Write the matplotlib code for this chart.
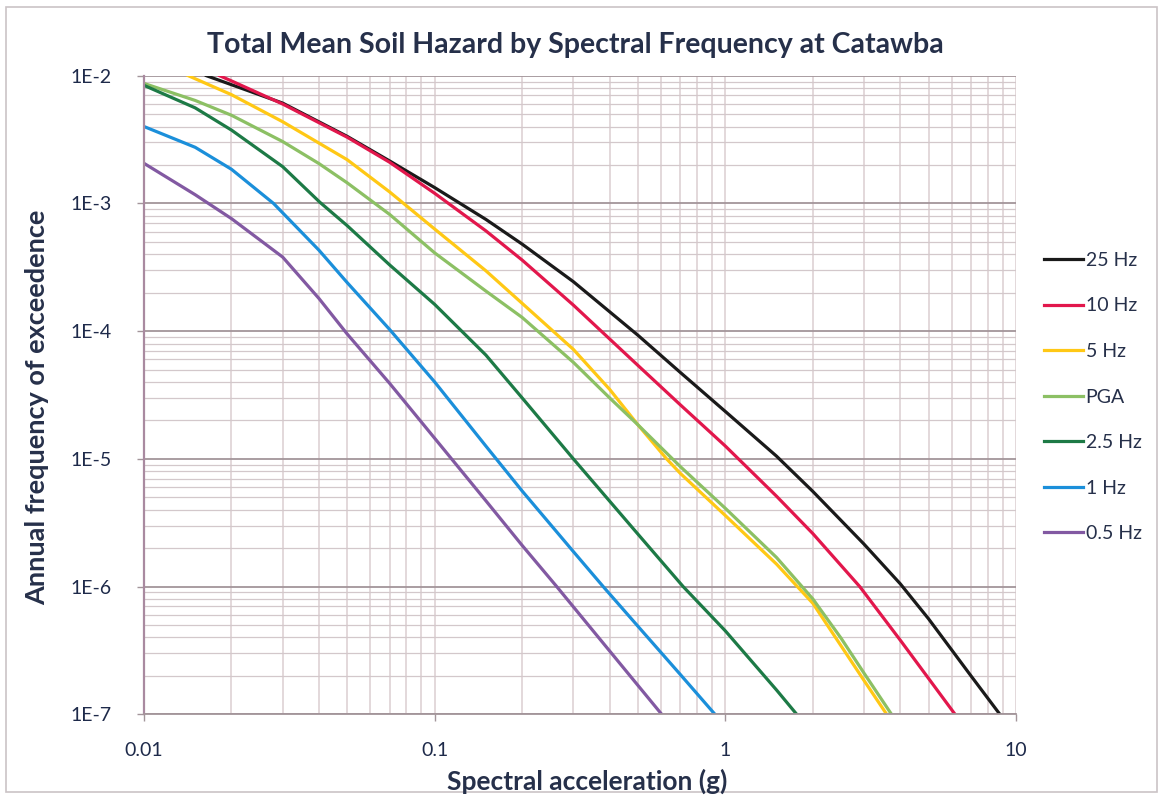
import matplotlib
matplotlib.use("Agg")
import matplotlib.pyplot as plt
from matplotlib.patches import Rectangle

# ---------------- data ----------------
labels = ["25 Hz", "10 Hz", "5 Hz", "PGA", "2.5 Hz", "1 Hz", "0.5 Hz"]
colors = ["#1a1a1a", "#e2174c", "#ffc815", "#8cc064", "#1d7a46", "#1b8fda", "#8259a2"]

x_25 = [0.0164, 0.02, 0.03, 0.05, 0.07, 0.1, 0.15, 0.2, 0.3, 0.5, 0.7, 1.0, 1.5, 2.0, 3.0, 4.0, 5.0, 7.0, 8.8]
y_25 = [1e-2, 8.5e-3, 6.1e-3, 3.35e-3, 2.15e-3, 1.33e-3, 7.5e-4, 4.8e-4, 2.44e-4, 9.3e-5, 4.75e-5, 2.35e-5,
        1.05e-5, 5.56e-6, 2.15e-6, 1.05e-6, 5.6e-7, 2.0e-7, 1.0e-7]

x_10 = [0.0182, 0.02, 0.03, 0.05, 0.07, 0.1, 0.15, 0.2, 0.3, 0.5, 0.7, 1.0, 1.5, 2.0, 2.9, 4.0, 6.17]
y_10 = [1e-2, 9.1e-3, 6.0e-3, 3.3e-3, 2.1e-3, 1.2e-3, 6.1e-4, 3.6e-4, 1.6e-4, 5.4e-5, 2.65e-5, 1.26e-5,
        5.1e-6, 2.6e-6, 1.0e-6, 3.8e-7, 1.0e-7]

x_5 = [0.0142, 0.02, 0.03, 0.05, 0.07, 0.1, 0.15, 0.2, 0.3, 0.4, 0.5, 0.628, 0.7, 1.0, 1.5, 2.0, 3.0, 3.59]
y_5 = [1e-2, 7.1e-3, 4.36e-3, 2.2e-3, 1.23e-3, 6.3e-4, 2.97e-4, 1.65e-4, 7.2e-5, 3.5e-5, 1.85e-5,
       1.0e-5, 7.7e-6, 3.6e-6, 1.5e-6, 7.4e-7, 1.84e-7, 1.0e-7]

x_pga = [0.01, 0.015, 0.02, 0.03, 0.04, 0.05, 0.07, 0.1, 0.15, 0.2, 0.3, 0.4, 0.5, 0.7, 1.0, 1.5, 2.0, 2.5, 3.0, 3.73]
y_pga = [8.7e-3, 6.4e-3, 4.9e-3, 3.05e-3, 2.05e-3, 1.45e-3, 8.2e-4, 4.1e-4, 2.06e-4, 1.28e-4, 5.7e-5,
         3.0e-5, 1.85e-5, 8.7e-6, 4.1e-6, 1.69e-6, 8.0e-7, 3.95e-7, 2.1e-7, 1.0e-7]

x_2p5 = [0.01, 0.015, 0.02, 0.03, 0.0403, 0.05, 0.07, 0.1, 0.15, 0.2, 0.3, 0.5, 0.716, 1.0, 1.5, 1.76]
y_2p5 = [8.4e-3, 5.6e-3, 3.75e-3, 1.94e-3, 1.02e-3, 6.7e-4, 3.3e-4, 1.62e-4, 6.5e-5, 3.0e-5, 1.0e-5,
         2.58e-6, 1.0e-6, 4.5e-7, 1.55e-7, 1.0e-7]

x_1 = [0.01, 0.015, 0.02, 0.0279, 0.04, 0.05, 0.07, 0.1, 0.15, 0.2, 0.3, 0.38, 0.5, 0.7, 0.921]
y_1 = [4.0e-3, 2.75e-3, 1.85e-3, 1.0e-3, 4.3e-4, 2.4e-4, 1.03e-4, 4.0e-5, 1.26e-5, 5.6e-6, 1.88e-6, 1.0e-6,
       4.9e-7, 2.05e-7, 1.0e-7]

x_05 = [0.01, 0.015, 0.02, 0.03, 0.04, 0.05, 0.07, 0.1, 0.15, 0.2, 0.263, 0.4, 0.604]
y_05 = [2.06e-3, 1.17e-3, 7.6e-4, 3.8e-4, 1.8e-4, 9.5e-5, 3.9e-5, 1.45e-5, 4.7e-6, 2.1e-6, 1.0e-6,
        3.13e-7, 1.0e-7]

series_x = [x_25, x_10, x_5, x_pga, x_2p5, x_1, x_05]
series_y = [y_25, y_10, y_5, y_pga, y_2p5, y_1, y_05]

xticks = [0.01, 0.1, 1, 10]
xticklabels = ["0.01", "0.1", "1", "10"]
yticks = [1e-2, 1e-3, 1e-4, 1e-5, 1e-6, 1e-7]
yticklabels = ["1E-2", "1E-3", "1E-4", "1E-5", "1E-6", "1E-7"]

title = "Total Mean Soil Hazard by Spectral Frequency at Catawba"
xlabel = "Spectral acceleration (g)"
ylabel = "Annual frequency of exceedence"

# ---------------- figure ----------------
plt.rcParams['font.family'] = ['Lato', 'DejaVu Sans']
W, H = 1161, 799
fig = plt.figure(figsize=(W / 100, H / 100), dpi=100)
fig.patch.set_facecolor("white")

# outer chart border
fig.add_artist(Rectangle((6 / W, 1 - 792 / H), (1157 - 6) / W, (792 - 7) / H,
                         transform=fig.transFigure, fill=False,
                         edgecolor="#cbc3c6", lw=1.2))

ax = fig.add_axes([144 / W, 1 - 714.3 / H, (1016 - 144) / W, (714.3 - 75.7) / H])
ax.set_xscale("log")
ax.set_yscale("log")
ax.set_xlim(0.01, 10)
ax.set_ylim(1e-7, 1e-2)

# grid
ax.grid(True, which="minor", axis="y", color="#d3c8cb", lw=0.9)
ax.grid(True, which="major", axis="y", color="#a3959a", lw=1.3)
ax.grid(True, which="both", axis="x", color="#e3d8db", lw=1.4)
ax.set_axisbelow(True)

for xs, ys, c, lab in zip(series_x, series_y, colors, labels):
    ax.plot(xs, ys, color=c, lw=2.3, label=lab, solid_joinstyle="round", clip_on=True)

ax.set_xticks(xticks)
ax.set_xticklabels(xticklabels)
ax.set_yticks(yticks)
ax.set_yticklabels(yticklabels)
ax.minorticks_on()
ax.tick_params(which="minor", length=0)
ax.tick_params(which="major", direction="out", length=5, width=1, color="#a3959a",
               labelsize=14, labelcolor="#1e2a4a")
ax.tick_params(axis="x", pad=15)
ax.tick_params(axis="y", pad=18)

for s in ["top", "right"]:
    ax.spines[s].set_visible(False)
ax.spines["left"].set_color("#a98aa0")
ax.spines["left"].set_linewidth(1.6)
ax.spines["bottom"].set_color("#a3959a")
ax.spines["bottom"].set_linewidth(1.3)

# texts
fig.text(575 / W, 1 - 45 / H, title, ha="center", va="center",
         fontsize=20.5, fontweight="bold", color="#26304a")
fig.text(587 / W, 1 - 781 / H, xlabel, ha="center", va="center",
         fontsize=19, fontweight="bold", color="#26304a")
fig.text(37 / W, 1 - 407 / H, ylabel, ha="center", va="center", rotation=90,
         fontsize=19.5, fontweight="bold", color="#26304a")

leg = ax.legend(loc="upper left", bbox_to_anchor=(1036 / W, 1 - 244 / H),
                bbox_transform=fig.transFigure, frameon=False, fontsize=14,
                handlelength=2.0, handletextpad=0.15, labelspacing=1.47,
                borderaxespad=0, borderpad=0.4)
for t in leg.get_texts():
    t.set_color("#26304a")
for l in leg.get_lines():
    l.set_linewidth(2.3)

fig.savefig("out.png", dpi=100, facecolor="white")
